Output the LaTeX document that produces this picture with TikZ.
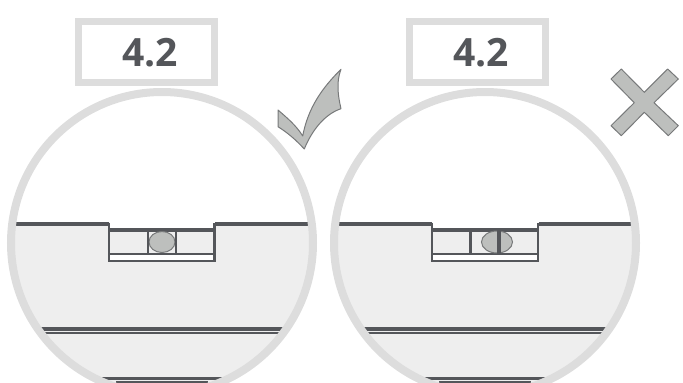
\documentclass[tikz,border=0pt]{standalone}
\usepackage{fontspec}
\setmainfont{Open Sans}
\definecolor{ringgray}{HTML}{DDDDDD}
\definecolor{lensgray}{HTML}{EEEEEE}
\definecolor{linegray}{HTML}{54565A}
\definecolor{markgray}{HTML}{BDBFBD}
\definecolor{markedge}{HTML}{77797A}
\begin{document}
\begin{tikzpicture}[
  x=1pt, y=-1pt,
  labelbox/.style={draw=ringgray, line width=7pt, fill=white, minimum width=136pt,
                   minimum height=61pt, inner sep=0pt},
  labeltext/.style={text=linegray, font=\bfseries\fontsize{39}{39}\selectfont, inner sep=0pt},
  ring/.style={draw=ringgray, line width=8pt},
  thick line/.style={draw=linegray, line width=3.8pt},
  thin line/.style={draw=linegray, line width=2.3pt},
  bubble/.style={fill=markgray, draw=markedge, line width=1pt},
  signmark/.style={fill=markgray, draw=markedge, line width=1pt, line join=round},
]
\useasboundingbox (0,0) rectangle (683,383);
\clip (0,0) rectangle (683,383);
% ---- label boxes ----
\node[labelbox] (box1) at (146.5,52) {};
\node[labelbox] (box2) at (477,52) {};
\node[labeltext] (val1) at (150,52.5) {4.2};
\node[labeltext] (val2) at (481,52.5) {4.2};
% ---- two lenses ----
\foreach \cx/\nl/\nr in {162/109/214.5, 485/432/538} {
  \begin{scope}
    \clip (\cx,243) circle[radius=149];
    \fill[lensgray] (\cx-160,224) rectangle (\cx+160,400);
    \fill[white] (\nl,224) rectangle (\nr,229);
    \fill[white] (\nl,255) rectangle (\nr,260);
    \draw[thick line] (\cx-160,224) -- (\nl-0.5,224);
    \draw[thick line] (\nr+0.5,224) -- (\cx+160,224);
    \draw[thin line] (\nl,222.5) -- (\nl,261) -- (\nr,261) -- (\nr,222.5);
    \draw[thick line] (\nl,230) -- (\nr,230);
    \draw[thick line, line width=2.6pt] (\nl,254) -- (\nr,254);
    \draw[thick line, line width=3.4pt] (\cx-160,329) -- (\cx+160,329);
    \draw[thin line, line width=1.8pt] (\cx-117,332.7) -- (\cx+117,332.7);
    \draw[thick line, line width=3.4pt] (\cx-160,378.5) -- (\cx+160,378.5);
    \draw[thick line, line width=3pt] (\cx-46,382.5) -- (\cx+46,382.5);
  \end{scope}
  \draw[ring] (\cx,243) circle[radius=151];
}
% ---- bubbles, left one centred, right one off centre ----
\draw[bubble] (162,242) ellipse[x radius=13, y radius=10.5];
\draw[thin line] (148,230) -- (148,254);
\draw[thin line] (176,230) -- (176,254);
\draw[bubble] (497,242) ellipse[x radius=15.5, y radius=11];
\draw[thin line, line width=2.4pt] (470.3,230) -- (470.3,254);
\draw[thin line, line width=3.6pt] (499,230) -- (499,254);
% ---- check mark and cross ----
\draw[signmark] (278,110) .. controls (286,117) and (296,125) .. (302.7,136)
  .. controls (308,108) and (322,88) .. (341,69.3)
  .. controls (336,82) and (338,96) .. (341,108.7)
  .. controls (325,114) and (312,130) .. (304.3,149)
  .. controls (296,140) and (288,133) .. (278,126.7) -- cycle;
\draw[signmark] (621.3,69) -- (644.3,92.3) -- (667.7,69) -- (678.3,79) -- (654,102.7)
  -- (678.3,125.7) -- (668.3,135.7) -- (644.3,112.3) -- (621.3,135.7) -- (611,125.7)
  -- (634.3,102.7) -- (611,79) -- cycle;
\end{tikzpicture}
\end{document}
